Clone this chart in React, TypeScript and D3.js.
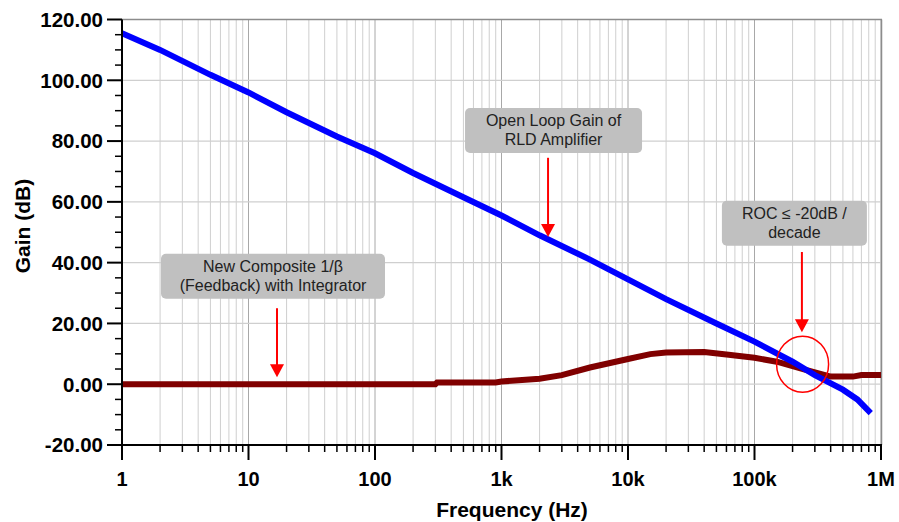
import React, { useEffect, useRef } from 'react';
import * as d3 from 'd3';

// open loop gain of the RLD amplifier (blue)
const OPEN_LOOP_FREQ = [1, 2, 5, 10, 20, 50, 100, 200, 500, 1e3, 2e3, 5e3, 1e4, 2e4, 5e4, 1e5, 2e5, 3e5, 5e5, 6.5e5, 8.3e5];
const OPEN_LOOP_GAIN = [115.5, 110, 101.8, 96, 89.5, 81.5, 76, 69.5, 61.5, 55.5, 49, 41, 34.5, 28, 20, 14, 7.4, 3, -1.8, -5, -9.5];

// composite 1/beta with integrator (dark red)
const FEEDBACK_FREQ = [1, 300, 310, 900, 1000, 2e3, 3e3, 5e3, 1e4, 1.5e4, 2e4, 4e4, 6e4, 1e5, 1.5e5, 2.5e5, 4e5, 6e5, 7e5, 1e6];
const FEEDBACK_GAIN = [0, 0, 0.6, 0.6, 0.9, 1.8, 3, 5.5, 8.3, 9.9, 10.4, 10.6, 9.8, 8.7, 7.4, 4.8, 2.5, 2.5, 3, 3];

const X_TICKS = [1, 10, 100, 1e3, 1e4, 1e5, 1e6];
const X_TICK_LABELS = ['1', '10', '100', '1k', '10k', '100k', '1M'];
const Y_TICKS = [-20, 0, 20, 40, 60, 80, 100, 120];

const NOTES = [
  { lines: ['Open Loop Gain of', 'RLD Amplifier'], freq: 2333, tip: 48.4, top: 74.5, boxDx: 5.5, boxDb: 83.5, boxW: 177 },
  { lines: ['ROC ≤ -20dB /', 'decade'], freq: 237000, tip: 17.1, top: 43.5, boxDx: -7.5, boxDb: 53, boxW: 145 },
  { lines: ['New Composite 1/β', '(Feedback) with Integrator'], freq: 16.8, tip: 2.3, top: 25, boxDx: -4, boxDb: 35.5, boxW: 224 },
];

const W = 899;
const H = 522;

const App = () => {
  const svgRef = useRef<SVGSVGElement>(null);

  useEffect(() => {
    const svg = d3.select(svgRef.current);
    svg.selectAll('*').remove();

    const left = 122, right = 881, top = 19.5, bottom = 445;
    const x = d3.scaleLog().domain([1, 1e6]).range([left, right]);
    const y = d3.scaleLinear().domain([-20, 120]).range([bottom, top]);

    const minors: number[] = [];
    for (let d = 1; d < 1e6; d *= 10) for (let m = 2; m <= 9; m++) minors.push(d * m);

    const grid = svg.append('g');
    grid.selectAll('.vminor').data(minors).enter().append('line')
      .attr('x1', d => x(d)).attr('x2', d => x(d))
      .attr('y1', top).attr('y2', bottom)
      .attr('stroke', '#cfcfcf').attr('stroke-width', 1);
    grid.selectAll('.vmajor').data(X_TICKS.slice(1)).enter().append('line')
      .attr('x1', d => x(d)).attr('x2', d => x(d))
      .attr('y1', top).attr('y2', bottom)
      .attr('stroke', '#a8a8a8').attr('stroke-width', 1);
    grid.selectAll('.hgrid').data(Y_TICKS.slice(1, -1)).enter().append('line')
      .attr('x1', left).attr('x2', right)
      .attr('y1', d => y(d)).attr('y2', d => y(d))
      .attr('stroke', '#cfcfcf').attr('stroke-width', 1.2);

    // frame
    svg.append('line').attr('x1', left).attr('x2', right + 1).attr('y1', top).attr('y2', top)
      .attr('stroke', '#8c8c8c').attr('stroke-width', 1.5);
    svg.append('line').attr('x1', right + 0.5).attr('x2', right + 0.5).attr('y1', top).attr('y2', bottom)
      .attr('stroke', '#8c8c8c').attr('stroke-width', 1.5);

    // curves
    const line = d3.line<[number, number]>().x(d => x(d[0])).y(d => y(d[1]));
    const fb = FEEDBACK_FREQ.map((f, i) => [f, FEEDBACK_GAIN[i]] as [number, number]);
    const ol = OPEN_LOOP_FREQ.map((f, i) => [f, OPEN_LOOP_GAIN[i]] as [number, number]);
    svg.append('path').attr('d', line(fb)).attr('fill', 'none')
      .attr('stroke', '#800000').attr('stroke-width', 6);
    svg.append('path').attr('d', line(ol)).attr('fill', 'none')
      .attr('stroke', '#0000ff').attr('stroke-width', 6);

    // axes
    svg.append('line').attr('x1', left).attr('x2', left).attr('y1', top).attr('y2', bottom + 1)
      .attr('stroke', '#000').attr('stroke-width', 2);
    svg.append('line').attr('x1', left - 1).attr('x2', right + 1).attr('y1', bottom).attr('y2', bottom)
      .attr('stroke', '#000').attr('stroke-width', 2);

    svg.append('g').selectAll('line').data(minors).enter().append('line')
      .attr('x1', d => x(d)).attr('x2', d => x(d))
      .attr('y1', bottom).attr('y2', bottom + 7)
      .attr('stroke', '#000').attr('stroke-width', 1.5);
    svg.append('g').selectAll('line').data(X_TICKS).enter().append('line')
      .attr('x1', d => x(d)).attr('x2', d => x(d))
      .attr('y1', bottom).attr('y2', bottom + 15)
      .attr('stroke', '#000').attr('stroke-width', 2);
    svg.append('g').selectAll('text').data(X_TICKS).enter().append('text')
      .attr('x', d => x(d)).attr('y', 486)
      .attr('text-anchor', 'middle')
      .style('font-family', '"Liberation Sans", Arial, sans-serif')
      .style('font-size', '20px').style('font-weight', 'bold')
      .text((d, i) => X_TICK_LABELS[i]);

    const yMinor = d3.range(-20, 121, 5).filter(v => v % 20 !== 0);
    svg.append('g').selectAll('line').data(yMinor).enter().append('line')
      .attr('x1', left - 7).attr('x2', left)
      .attr('y1', d => y(d)).attr('y2', d => y(d))
      .attr('stroke', '#000').attr('stroke-width', 1.5);
    svg.append('g').selectAll('line').data(Y_TICKS).enter().append('line')
      .attr('x1', left - 15).attr('x2', left)
      .attr('y1', d => y(d)).attr('y2', d => y(d))
      .attr('stroke', '#000').attr('stroke-width', 2);
    svg.append('g').selectAll('text').data(Y_TICKS).enter().append('text')
      .attr('x', 103).attr('y', d => y(d)).attr('dy', '0.36em')
      .attr('text-anchor', 'end')
      .style('font-family', '"Liberation Sans", Arial, sans-serif')
      .style('font-size', '20.5px').style('font-weight', 'bold')
      .text(d => d.toFixed(2));

    svg.append('text')
      .attr('transform', `translate(30,226) rotate(-90)`)
      .attr('text-anchor', 'middle')
      .style('font-family', '"Liberation Sans", Arial, sans-serif')
      .style('font-size', '21px').style('font-weight', 'bold')
      .text('Gain (dB)');
    svg.append('text')
      .attr('x', 512).attr('y', 517)
      .attr('text-anchor', 'middle')
      .style('font-family', '"Liberation Sans", Arial, sans-serif')
      .style('font-size', '21px').style('font-weight', 'bold')
      .text('Frequency (Hz)');

    // annotations
    NOTES.forEach(n => {
      const ax = x(n.freq);
      const cx = ax + n.boxDx;
      const cy = y(n.boxDb);
      const g = svg.append('g');
      g.append('rect')
        .attr('x', cx - n.boxW / 2).attr('y', cy - 22.5)
        .attr('width', n.boxW).attr('height', 45)
        .attr('rx', 5).attr('fill', '#c0c0c0');
      n.lines.forEach((t, i) => {
        g.append('text')
          .attr('x', cx).attr('y', cy - 4 + i * 19)
          .attr('text-anchor', 'middle')
          .style('font-family', '"Liberation Sans", Arial, sans-serif')
          .style('font-size', '16px').style('fill', '#222')
          .text(t);
      });
      const tipY = y(n.tip);
      g.append('line')
        .attr('x1', ax).attr('x2', ax)
        .attr('y1', y(n.top)).attr('y2', tipY - 10)
        .attr('stroke', '#ff0000').attr('stroke-width', 2);
      g.append('path')
        .attr('d', `M${ax - 7},${tipY - 13}L${ax + 7},${tipY - 13}L${ax},${tipY}Z`)
        .attr('fill', '#ff0000');
    });

    svg.append('ellipse')
      .attr('cx', x(240000)).attr('cy', y(6.6))
      .attr('rx', 26).attr('ry', 28)
      .attr('fill', 'none').attr('stroke', '#ff0000').attr('stroke-width', 1.5);
  }, []);

  return (
    <div style={{ position: 'absolute', left: 0, top: 0, width: W, height: H, background: '#fff' }}>
      <svg ref={svgRef} width={W} height={H} style={{ display: 'block' }}></svg>
    </div>
  );
};

export default App;
